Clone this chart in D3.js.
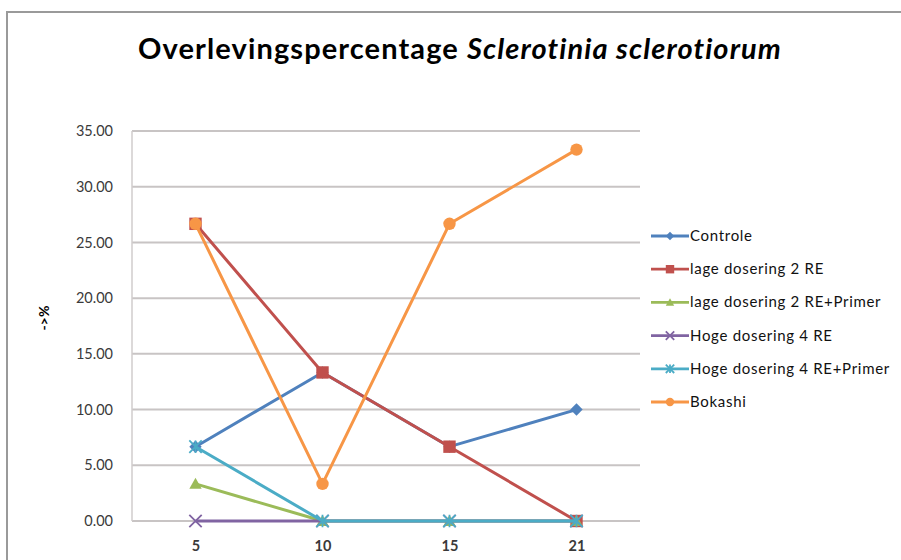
<!DOCTYPE html>
<html><head><meta charset="utf-8">
<script src="https://cdn.jsdelivr.net/npm/d3@7"></script>
<style>body{margin:0;background:#fff}svg{display:block}</style>
</head><body>
<script>
const categories = ["5", "10", "15", "21"];
const seriesNames = ["Controle", "lage dosering 2 RE", "lage dosering 2 RE+Primer", "Hoge dosering 4 RE", "Hoge dosering 4 RE+Primer", "Bokashi"];
const controle = [6.67, 13.33, 6.67, 10.00];
const lage2RE = [26.67, 13.33, 6.67, 0.00];
const lage2REPrimer = [3.33, 0.00, 0.00, 0.00];
const hoge4RE = [0.00, 0.00, 0.00, 0.00];
const hoge4REPrimer = [6.67, 0.00, 0.00, 0.00];
const bokashi = [26.67, 3.33, 26.67, 33.33];
const yTicks = [0, 5, 10, 15, 20, 25, 30, 35];
const colors = ["#4F81BD", "#C0504D", "#9BBB59", "#8064A2", "#4BACC6", "#F79646"];
const markers = ["diamond", "square", "triangle", "x", "star", "circle"];
const seriesValues = [controle, lage2RE, lage2REPrimer, hoge4RE, hoge4REPrimer, bokashi];

const W = 901, H = 560;
const svg = d3.select("body").append("svg").attr("width", W).attr("height", H);
const font = "Lato, 'Open Sans', sans-serif";

// chart frame
svg.append("rect").attr("x", 7).attr("y", 12).attr("width", W + 20).attr("height", H + 20)
  .attr("fill", "#fff").attr("stroke", "#9a9a9a").attr("stroke-width", 2);

// title
const title = svg.append("text").attr("x", 460).attr("y", 59).attr("text-anchor", "middle")
  .attr("font-family", font).attr("font-weight", "bold").attr("font-size", 29)
  .attr("letter-spacing", 1.1).attr("fill", "#000");
title.append("tspan").text("Overlevingspercentage ");
title.append("tspan").attr("font-style", "italic").text("Sclerotinia sclerotiorum");

const x = d3.scalePoint().domain(categories).range([132, 640]).padding(0.5);
const y = d3.scaleLinear().domain([0, 35]).range([521, 131]);

// gridlines
svg.append("g").selectAll("line").data(yTicks).join("line")
  .attr("x1", 132).attr("x2", 640).attr("y1", d => y(d)).attr("y2", d => y(d))
  .attr("stroke", "#c8c4c4").attr("stroke-width", 2);
// y axis line
svg.append("line").attr("x1", 132).attr("x2", 132).attr("y1", y(35)).attr("y2", y(0))
  .attr("stroke", "#d0cccc").attr("stroke-width", 1.5);

// y axis
const yAxis = svg.append("g").attr("transform", "translate(132,0)")
  .call(d3.axisLeft(y).tickValues(yTicks).tickFormat(d3.format(".2f")).tickSize(0).tickPadding(19));
yAxis.select(".domain").remove();
yAxis.selectAll("text").attr("font-family", font).attr("font-size", 14.5).attr("fill", "#3a3a3a");

// x axis
const xAxis = svg.append("g").attr("transform", "translate(0,521)")
  .call(d3.axisBottom(x).tickSize(0).tickPadding(20));
xAxis.select(".domain").remove();
xAxis.selectAll("text").attr("font-family", font).attr("font-size", 14.5).attr("font-weight", "bold").attr("fill", "#3a3a3a");

// y axis title
svg.append("text").attr("transform", "translate(49,318) rotate(-90)").attr("text-anchor", "middle")
  .attr("font-family", font).attr("font-weight", "bold").attr("font-size", 14).attr("fill", "#000")
  .text("->%");

function drawMarker(g, type, color, cx, cy, s) {
  if (type === "diamond") {
    g.append("path").attr("d", `M${cx},${cy - s}L${cx + s},${cy}L${cx},${cy + s}L${cx - s},${cy}Z`).attr("fill", color);
  } else if (type === "square") {
    g.append("rect").attr("x", cx - s).attr("y", cy - s).attr("width", 2 * s).attr("height", 2 * s).attr("fill", color);
  } else if (type === "triangle") {
    g.append("path").attr("d", `M${cx},${cy - s}L${cx + s},${cy + s * 0.8}L${cx - s},${cy + s * 0.8}Z`).attr("fill", color);
  } else if (type === "x") {
    g.append("path").attr("d", `M${cx - s},${cy - s}L${cx + s},${cy + s}M${cx - s},${cy + s}L${cx + s},${cy - s}`)
      .attr("stroke", color).attr("stroke-width", 1.8);
  } else if (type === "star") {
    g.append("path").attr("d", `M${cx - s},${cy - s}L${cx + s},${cy + s}M${cx - s},${cy + s}L${cx + s},${cy - s}M${cx},${cy - s}L${cx},${cy + s}`)
      .attr("stroke", color).attr("stroke-width", 1.8);
  } else if (type === "circle") {
    g.append("circle").attr("cx", cx).attr("cy", cy).attr("r", s).attr("fill", color);
  }
}

const line = d3.line().x((d, i) => x(categories[i])).y(d => y(d));
seriesValues.forEach((vals, si) => {
  const g = svg.append("g");
  g.append("path").datum(vals).attr("d", line).attr("fill", "none")
    .attr("stroke", colors[si]).attr("stroke-width", 3).attr("stroke-linejoin", "round");
  vals.forEach((v, i) => drawMarker(g, markers[si], colors[si], x(categories[i]), y(v), 6.2));
});

// legend
const legY = d3.scaleLinear().domain([0, 5]).range([236, 402]);
seriesNames.forEach((name, i) => {
  const g = svg.append("g");
  const yy = legY(i);
  g.append("line").attr("x1", 651).attr("x2", 689).attr("y1", yy).attr("y2", yy)
    .attr("stroke", colors[i]).attr("stroke-width", 2.8);
  drawMarker(g, markers[i], colors[i], 670, yy, 4.2);
  g.append("text").attr("x", 690).attr("y", yy + 5).attr("font-family", font)
    .attr("font-size", 15).attr("letter-spacing", 0.7).attr("fill", "#111").text(name);
});
</script>
</body></html>
